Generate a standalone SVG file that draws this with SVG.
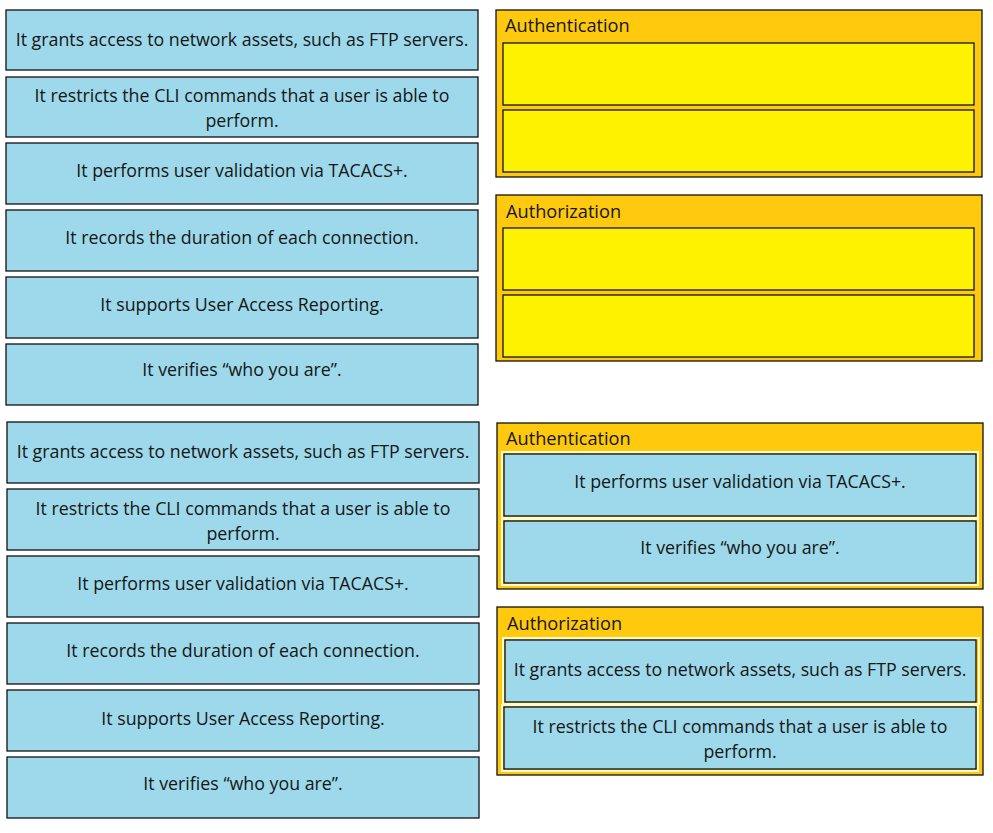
<svg xmlns="http://www.w3.org/2000/svg" width="993" height="833" viewBox="0 0 993 833">
<style>
.b{fill:#9dd9ea;stroke:#111;stroke-width:1.3}
.c{fill:#ffc90e;stroke:#111;stroke-width:1.3}
.y{fill:#fff200;stroke:#111;stroke-width:1.3}
.h{fill:none;stroke:#fffbd0;stroke-width:2}
text{font-family:"Open Sans","Noto Sans",sans-serif;font-size:17.8px;fill:#161616}
.t{text-anchor:middle}
.k{font-size:18.2px}
</style>
<rect width="993" height="833" fill="#fff"/>
<g id="top-left">
<g id="tl1"><rect class="b" x="6" y="10" width="472" height="60"/><text class="t" x="242" y="46">It grants access to network assets, such as FTP servers.</text></g>
<g id="tl2"><rect class="b" x="6" y="77" width="472" height="60"/><text class="t" x="242" y="102">It restricts the CLI commands that a user is able to</text><text class="t" x="242" y="127">perform.</text></g>
<g id="tl3"><rect class="b" x="6" y="143" width="472" height="61"/><text class="t" x="242" y="177">It performs user validation via TACACS+.</text></g>
<g id="tl4"><rect class="b" x="6" y="210" width="472" height="61"/><text class="t" x="242" y="244">It records the duration of each connection.</text></g>
<g id="tl5"><rect class="b" x="6" y="277" width="472" height="61"/><text class="t" x="242" y="311">It supports User Access Reporting.</text></g>
<g id="tl6"><rect class="b" x="6" y="344" width="472" height="61"/><text class="t" x="242" y="376">It verifies “who you are”.</text></g>
</g>
<g id="top-right">
<g id="tr-authn"><rect class="c" x="496" y="10" width="486" height="167"/><text class="k" x="505" y="32">Authentication</text>
<rect class="y" x="503" y="43" width="471" height="62"/><rect class="y" x="503" y="110" width="471" height="62"/></g>
<g id="tr-authz"><rect class="c" x="496" y="195" width="486" height="166"/><text class="k" x="506" y="218">Authorization</text>
<rect class="y" x="503" y="228" width="471" height="62"/><rect class="y" x="503" y="295" width="471" height="62"/></g>
</g>
<g id="bottom-left">
<g id="bl1"><rect class="b" x="7" y="422" width="472" height="61"/><text class="t" x="243" y="458">It grants access to network assets, such as FTP servers.</text></g>
<g id="bl2"><rect class="b" x="7" y="489" width="472" height="61"/><text class="t" x="243" y="515">It restricts the CLI commands that a user is able to</text><text class="t" x="243" y="540">perform.</text></g>
<g id="bl3"><rect class="b" x="7" y="556" width="472" height="61"/><text class="t" x="243" y="590">It performs user validation via TACACS+.</text></g>
<g id="bl4"><rect class="b" x="7" y="623" width="472" height="61"/><text class="t" x="243" y="657">It records the duration of each connection.</text></g>
<g id="bl5"><rect class="b" x="7" y="690" width="472" height="61"/><text class="t" x="243" y="725">It supports User Access Reporting.</text></g>
<g id="bl6"><rect class="b" x="7" y="757" width="472" height="61"/><text class="t" x="243" y="790">It verifies “who you are”.</text></g>
</g>
<g id="bottom-right">
<g id="br-authn"><rect class="c" x="497" y="423" width="486" height="166"/><text class="k" x="506" y="445">Authentication</text>
<rect class="h" x="502" y="452" width="476" height="66"/><rect class="b" x="504" y="454" width="472" height="62"/><text class="t" x="740" y="488">It performs user validation via TACACS+.</text>
<rect class="h" x="502" y="519" width="476" height="66"/><rect class="b" x="504" y="521" width="472" height="62"/><text class="t" x="740" y="554">It verifies “who you are”.</text></g>
<g id="br-authz"><rect class="c" x="497" y="607" width="486" height="168"/><text class="k" x="507" y="630">Authorization</text>
<rect class="h" x="503" y="638" width="476" height="66"/><rect class="b" x="505" y="640" width="471" height="62"/><text class="t" x="740" y="676">It grants access to network assets, such as FTP servers.</text>
<rect class="h" x="502" y="705" width="476" height="66"/><rect class="b" x="504" y="707" width="472" height="62"/><text class="t" x="740" y="733">It restricts the CLI commands that a user is able to</text><text class="t" x="740" y="758">perform.</text></g>
</g>
<g id="connectors"/>
</svg>
